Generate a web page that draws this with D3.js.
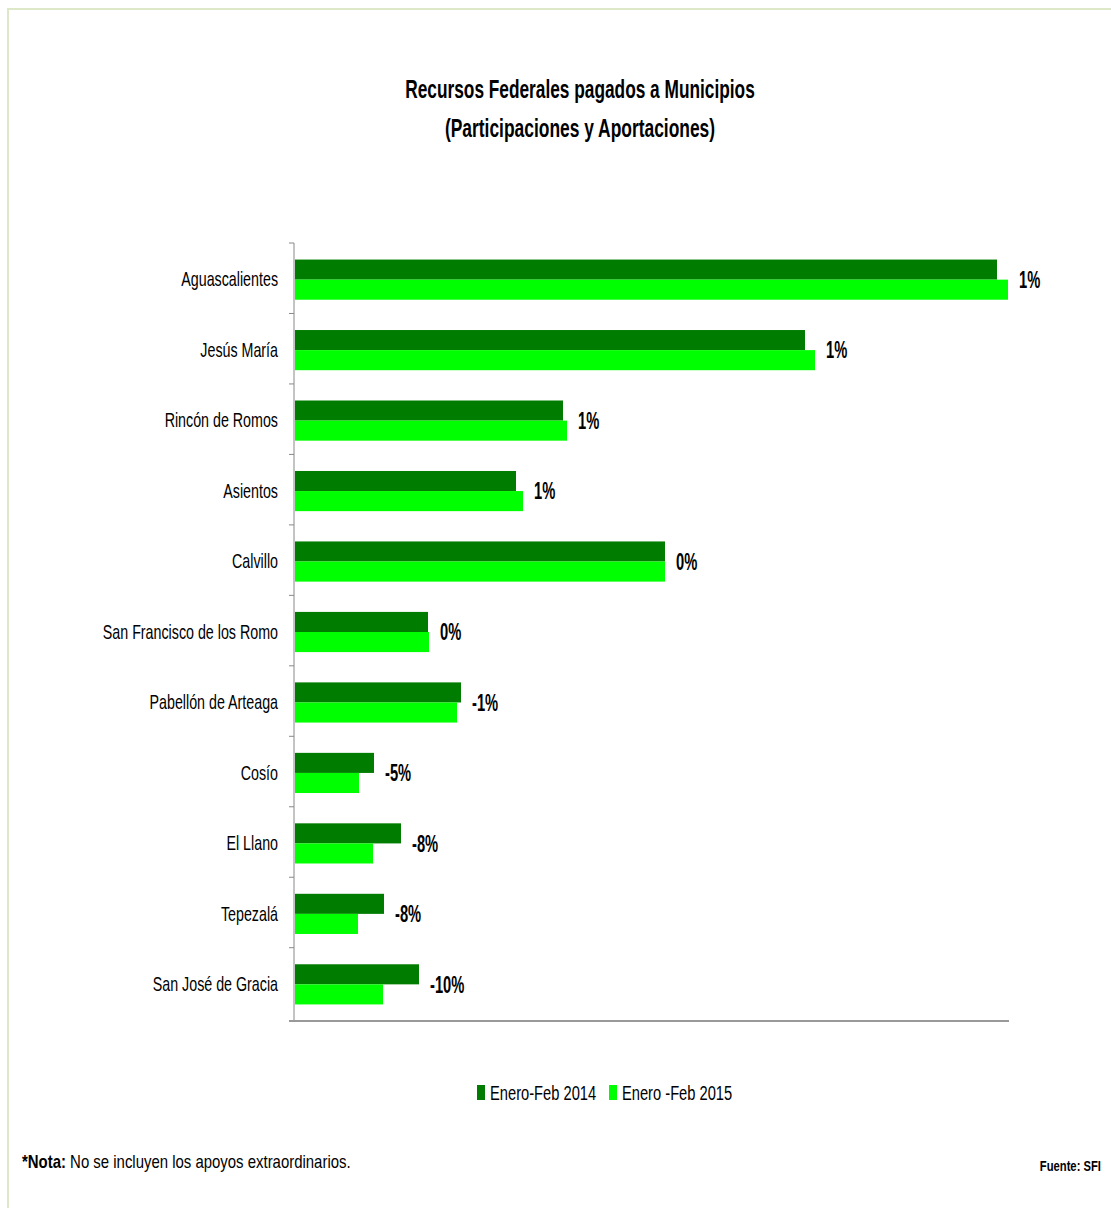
<!DOCTYPE html>
<html>
<head>
<meta charset="utf-8">
<script src="https://cdn.jsdelivr.net/npm/d3@7"></script>
<style>
  html, body { margin: 0; padding: 0; background: #fff; }
  text { font-family: "Liberation Sans", Arial, sans-serif; }
</style>
</head>
<body>
<script>
"use strict";

// chart data (millions)
var municipios = ["Aguascalientes", "Jesús María", "Rincón de Romos", "Asientos", "Calvillo",
  "San Francisco de los Romo", "Pabellón de Arteaga", "Cosío", "El Llano", "Tepezalá",
  "San José de Gracia"];
var series = ["Enero-Feb 2014", "Enero -Feb 2015"];
var feb2014 = [702, 510, 268, 221, 370, 133, 166, 79, 106, 89, 124];
var feb2015 = [713, 520, 272, 228, 370, 134, 162, 64, 78, 63, 88];
var variacion = ["1%", "1%", "1%", "1%", "0%", "0%", "-1%", "-5%", "-8%", "-8%", "-10%"];
var colores = ["#007d00", "#00ff00"];

var width = 1111, height = 1208;

// narrow the text horizontally around its own x (no condensed font available)
function squeeze(sel, sx) {
  sel.each(function () {
    var t = d3.select(this);
    var x0 = +t.attr("x") || 0;
    t.attr("transform", "translate(" + x0 + ",0) scale(" + sx + ",1) translate(" + (-x0) + ",0)");
  });
}

var svg = d3.select("body")
  .append("svg")
    .attr("width", width)
    .attr("height", height);

// outer frame
svg.append("rect")
  .attr("x", 8).attr("y", 9)
  .attr("width", width + 20).attr("height", height + 20)
  .attr("fill", "none")
  .attr("stroke", "#dde8c8")
  .attr("stroke-width", 2);

// title
var t1 = svg.append("text")
  .attr("x", 580).attr("y", 98)
  .attr("text-anchor", "middle")
  .style("font-weight", "bold")
  .style("font-size", "26px")
  .text("Recursos  Federales pagados a Municipios");
var t2 = svg.append("text")
  .attr("x", 580).attr("y", 137)
  .attr("text-anchor", "middle")
  .style("font-weight", "bold")
  .style("font-size", "26px")
  .text("(Participaciones y Aportaciones)");
squeeze(t1, 0.665);
squeeze(t2, 0.67);

var x = d3.scaleLinear()
  .domain([0, 715])
  .range([295, 1010]);

var y = d3.scaleBand()
  .domain(municipios)
  .range([243, 1021])
  .paddingInner(0.43)
  .paddingOuter(0.235);

var ySub = d3.scaleBand()
  .domain(series)
  .range([0, y.bandwidth()]);

var rows = municipios.map(function (m, i) {
  return { name: m, values: [feb2014[i], feb2015[i]], label: variacion[i] };
});

var g = svg.selectAll(".row")
  .data(rows)
  .enter()
  .append("g")
    .attr("class", "row")
    .attr("transform", function (d) { return "translate(0," + y(d.name) + ")"; });

g.selectAll("rect")
  .data(function (d) { return d.values.map(function (v, k) { return { s: series[k], v: v, k: k }; }); })
  .enter()
  .append("rect")
    .attr("x", x(0))
    .attr("y", function (d) { return ySub(d.s); })
    .attr("width", function (d) { return x(d.v) - x(0); })
    .attr("height", ySub.bandwidth())
    .attr("fill", function (d) { return colores[d.k]; });

// percentage labels
var pct = g.append("text")
  .attr("x", function (d) { return x(d3.max(d.values)) + 11; })
  .attr("y", y.bandwidth() / 2)
  .attr("dy", "0.36em")
  .style("font-weight", "bold")
  .style("font-size", "23px")
  .text(function (d) { return d.label; });
squeeze(pct, 0.64);

// category axis
var yAxis = d3.axisLeft(y).tickSize(0).tickPadding(16);
var ax = svg.append("g")
  .attr("transform", "translate(294,0)")
  .call(yAxis);
ax.select(".domain").remove();
ax.selectAll("text")
  .style("font-size", "21px")
  .attr("fill", "#000");
squeeze(ax.selectAll("text"), 0.68);

// axis lines and ticks between categories
var boundaries = municipios.map(function (m) { return y(m) - y.step() * y.paddingOuter(); });
boundaries.push(1021);
svg.selectAll(".tick-sep")
  .data(boundaries)
  .enter()
  .append("line")
    .attr("x1", 289).attr("x2", 294)
    .attr("y1", function (d) { return d; })
    .attr("y2", function (d) { return d; })
    .attr("stroke", "#888");
svg.append("line")
  .attr("x1", 294).attr("x2", 294)
  .attr("y1", 243).attr("y2", 1021)
  .attr("stroke", "#888");
svg.append("line")
  .attr("x1", 289).attr("x2", 1009)
  .attr("y1", 1021).attr("y2", 1021)
  .attr("stroke", "#999")
  .attr("stroke-width", 2);

// legend
var legend = svg.append("g").attr("transform", "translate(477,1085)");
var legX = [0, 132];
series.forEach(function (s, i) {
  legend.append("rect")
    .attr("x", legX[i]).attr("y", 0)
    .attr("width", 8).attr("height", 15)
    .attr("fill", colores[i]);
  var lt = legend.append("text")
    .attr("x", legX[i] + 13).attr("y", 15)
    .style("font-size", "21px")
    .text(s);
  squeeze(lt, 0.7);
});

// footnotes
var nota = svg.append("text")
  .attr("x", 22).attr("y", 1168)
  .style("font-size", "18px");
nota.append("tspan").style("font-weight", "bold").text("*Nota:");
nota.append("tspan").text(" No se incluyen los  apoyos extraordinarios.");
squeeze(nota, 0.83);

var fuente = svg.append("text")
  .attr("x", 1101).attr("y", 1171)
  .attr("text-anchor", "end")
  .style("font-weight", "bold")
  .style("font-size", "15px")
  .text("Fuente: SFI");
squeeze(fuente, 0.75);
</script>
</body>
</html>
